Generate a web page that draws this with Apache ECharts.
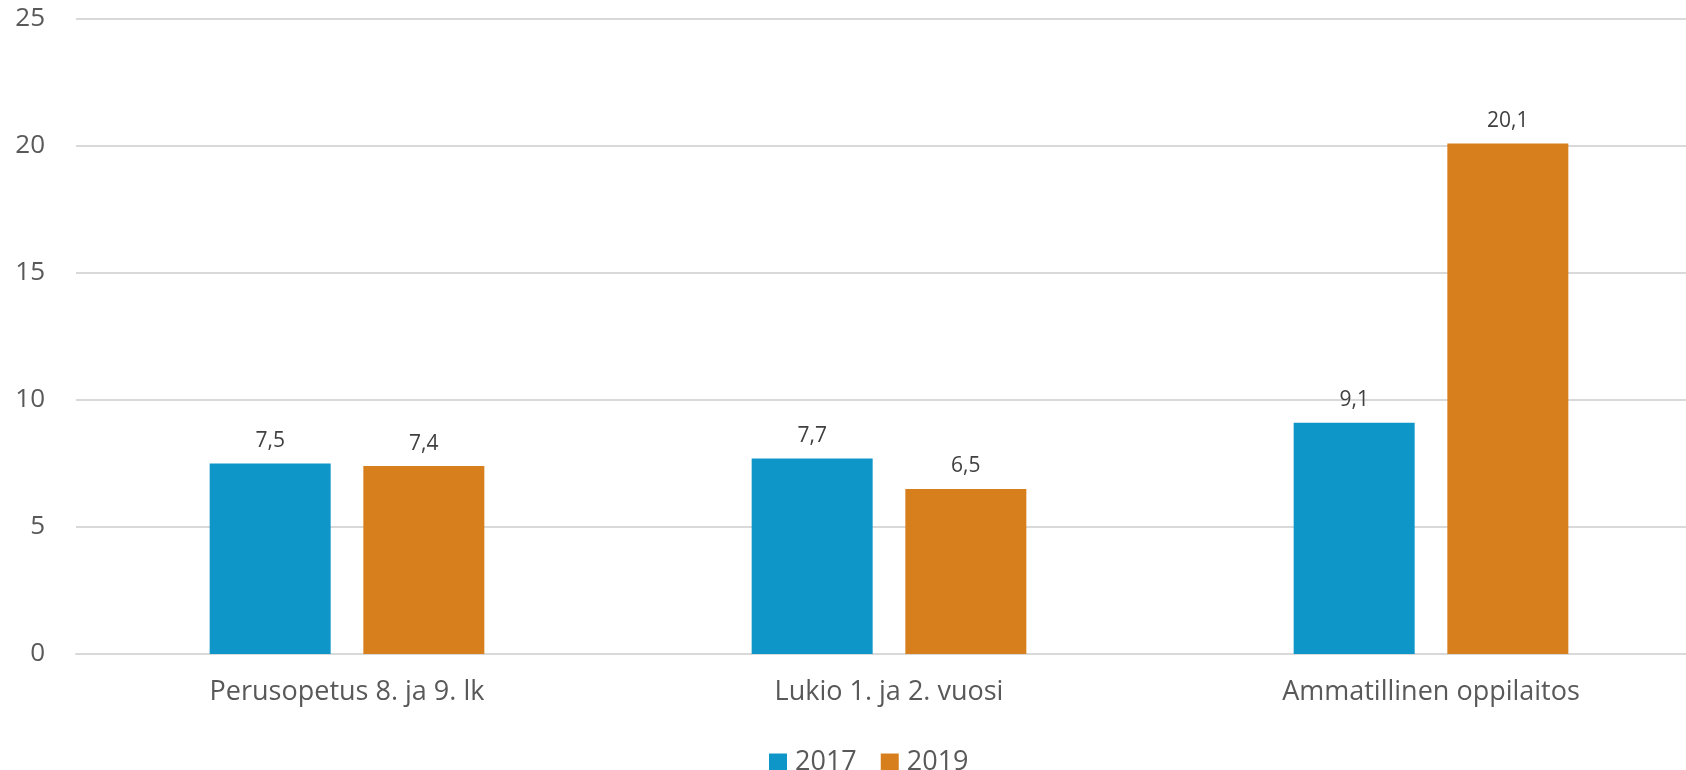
<!DOCTYPE html>
<html>
<head>
<meta charset="utf-8">
<script src="https://cdn.jsdelivr.net/npm/echarts@6/dist/echarts.min.js"></script>
<style>
  html, body { margin: 0; padding: 0; background: #fff; }
  #chart { width: 1686px; height: 770px; }
</style>
</head>
<body>
<div id="chart"></div>
<script>
var categories = ['Perusopetus 8. ja 9. lk', 'Lukio 1. ja 2. vuosi', 'Ammatillinen oppilaitos'];
var years = ['2017', '2019'];
var values2017 = [7.5, 7.7, 9.1];
var values2019 = [7.4, 6.5, 20.1];
var yTicks = [0, 5, 10, 15, 20, 25];

var font = 'Open Sans';
var chart = echarts.init(document.getElementById('chart'), null, { renderer: 'canvas' });

function fmt(v) {
    return String(v).replace('.', ',');
}

function barSeries(name, data, color) {
    return {
        name: name,
        type: 'bar',
        data: data,
        barWidth: 121,
        barGap: '27%',
        itemStyle: { color: color },
        label: {
            show: true,
            position: 'top',
            distance: 12,
            color: '#404040',
            fontFamily: font,
            fontSize: 21,
            formatter: function (p) { return fmt(p.value); }
        }
    };
}

chart.setOption({
    animation: false,
    textStyle: { fontFamily: font },
    // plot area runs past the right edge, as in the cropped original
    grid: { left: 76, width: 1626, top: 19, bottom: 116, containLabel: false, outerBoundsMode: 'none' },
    legend: {
        data: years,
        left: 764,
        top: 744,
        itemWidth: 18,
        itemHeight: 18,
        itemGap: 24,
        icon: 'rect',
        textStyle: { color: '#595959', fontSize: 27, fontFamily: font, padding: [0, 0, 0, 3] }
    },
    xAxis: {
        type: 'category',
        data: categories,
        axisLine: { lineStyle: { color: '#D9D9D9', width: 2 } },
        axisTick: { show: false },
        axisLabel: { color: '#595959', fontSize: 27, fontFamily: font, margin: 25 }
    },
    yAxis: {
        type: 'value',
        min: yTicks[0],
        max: yTicks[yTicks.length - 1],
        interval: 5,
        axisLine: { show: false },
        axisTick: { show: false },
        splitLine: { lineStyle: { color: '#D9D9D9', width: 2 } },
        axisLabel: { color: '#595959', fontSize: 26, fontFamily: font, margin: 31 }
    },
    series: [
        barSeries(years[0], values2017, '#0F96C8'),
        barSeries(years[1], values2019, '#D87F1D')
    ]
});
</script>
</body>
</html>
